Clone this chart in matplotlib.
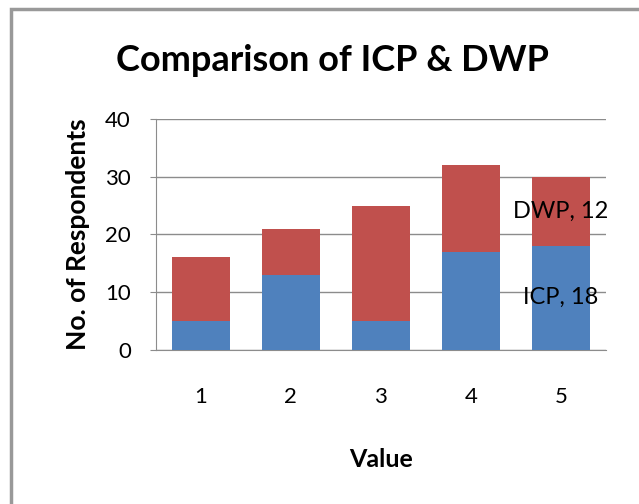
import numpy as np
import matplotlib.pyplot as plt
from matplotlib.patches import Rectangle

# --------------------------------------------------------------------------------
# Data
# --------------------------------------------------------------------------------

values = ["1", "2", "3", "4", "5"]
icp = [5, 13, 5, 17, 18]
dwp = [11, 8, 20, 15, 12]

BLUE = "#4F81BD"
RED = "#C0504D"

plt.rcParams['font.family'] = ['Lato', 'DejaVu Sans']

# --------------------------------------------------------------------------------
# Visualization
# --------------------------------------------------------------------------------

fig = plt.figure(figsize = (6.39, 5.04), dpi = 100)
ax = fig.add_axes([0.244, 0.306, 0.704, 0.458])

x = np.arange(len(values))
ax.bar(x, icp, width = 0.64, color = BLUE, zorder = 3)
ax.bar(x, dwp, width = 0.64, bottom = icp, color = RED, zorder = 3)

# data labels on the last bar
last = len(values) - 1
ax.text(x[last], icp[last] / 2, f"ICP, {icp[last]}", ha = "center", va = "center", fontsize = 17, zorder = 4)
ax.text(x[last], icp[last] + dwp[last] / 2, f"DWP, {dwp[last]}", ha = "center", va = "center", fontsize = 17, zorder = 4)

ax.set_xlim(-0.5, len(values) - 0.5)
ax.set_ylim(0, 40)
ax.set_yticks([0, 10, 20, 30, 40])
ax.set_xticks(x)
ax.set_xticklabels(values)
ax.grid(axis = "y", color = "#8c8c8c", linewidth = 1, zorder = 0)

for side in ["top", "right"]:
    ax.spines[side].set_visible(False)
ax.spines["left"].set_color("#8c8c8c")
ax.spines["bottom"].set_color("#8c8c8c")
ax.tick_params(axis = "y", length = 4, color = "#8c8c8c", pad = 14, labelsize = 16)
ax.tick_params(axis = "x", length = 0, pad = 27, labelsize = 16)

ax.set_xlabel("Value", fontsize = 18, fontweight = "bold", labelpad = 29)
ax.set_ylabel("No. of Respondents", fontsize = 19, fontweight = "bold", labelpad = 11)
fig.text(0.52, 0.88, "Comparison of ICP & DWP", ha = "center", va = "center", fontsize = 26, fontweight = "bold")

# chart area border (only top and left edges fall inside the picture)
fig.patches.append(Rectangle((11 / 639, -0.2), 1.5, 1.2 - 9 / 504, transform = fig.transFigure, fill = False, edgecolor = "#999999", linewidth = 2.5))

plt.savefig("out.png", dpi = 100)
plt.close()
